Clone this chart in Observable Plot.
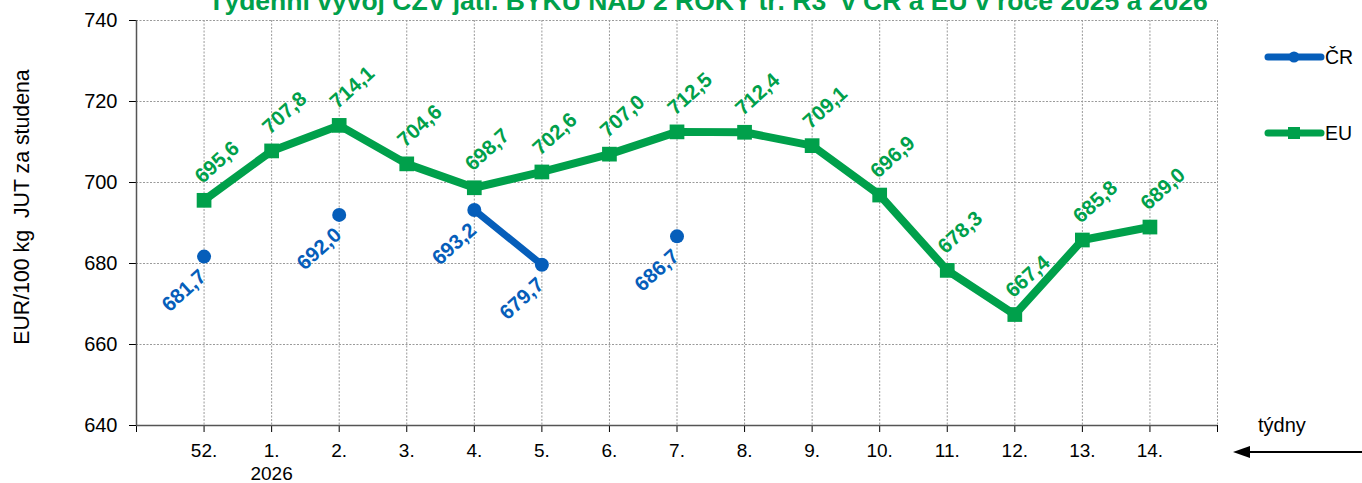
<!DOCTYPE html>
<html>
<head>
<meta charset="utf-8">
<script src="https://cdn.jsdelivr.net/npm/d3@7"></script>
<script src="https://cdn.jsdelivr.net/npm/@observablehq/plot@0.6"></script>
<style>
  html, body { margin: 0; padding: 0; background: #fff; overflow: hidden; }
  #chart { position: relative; width: 1362px; height: 483px; }
  #chart svg { display: block; overflow: hidden; }
</style>
</head>
<body>
<div id="chart"></div>
<script>
// ---- data ----
const weeks = ["52.", "1.", "2.", "3.", "4.", "5.", "6.", "7.", "8.", "9.", "10.", "11.", "12.", "13.", "14."];
const crValues = [681.7, null, 692.0, null, 693.2, 679.7, null, 686.7, null, null, null, null, null, null, null];
const euValues = [695.6, 707.8, 714.1, 704.6, 698.7, 702.6, 707.0, 712.5, 712.4, 709.1, 696.9, 678.3, 667.4, 685.8, 689.0];
const yTicks = [640, 660, 680, 700, 720, 740];
const yearLabel = "2026";
const yearWeek = "1.";
const seriesNames = ["ČR", "EU"];
const titleText = "Týdenní vývoj CZV jatl. BÝKŮ NAD 2 ROKY tř. R3  v ČR a EU v roce 2025 a 2026";
const yTitle = "EUR/100 kg  JUT za studena";
const xTitle = "týdny";

// ---- styles ----
const GREEN = "#00A04B";
const BLUE = "#065EBA";
const GRID = "#9a9a9a";
const FONT = "'Liberation Sans', Arial, sans-serif";

const rows = weeks.map((w, i) => ({ i: i + 1, week: w, cr: crValues[i], eu: euValues[i] }));
const fmt = v => v.toFixed(1).replace(".", ",");
const crRows = rows.filter(d => d.cr != null);

const chart = Plot.plot({
  width: 1362,
  height: 483,
  marginLeft: 136,
  marginRight: 145,
  marginTop: 20,
  marginBottom: 58,
  style: { fontFamily: FONT, background: "#fff", color: "#000", overflow: "hidden" },
  x: { type: "linear", domain: [0, weeks.length + 1] },
  y: { domain: [yTicks[0], yTicks[yTicks.length - 1]] },
  marks: [
    Plot.gridY(yTicks.slice(1), { stroke: GRID, strokeOpacity: 1, strokeWidth: 1, strokeDasharray: "2,1.5" }),
    Plot.gridX(d3.range(1, weeks.length + 2), { stroke: GRID, strokeOpacity: 1, strokeWidth: 1, strokeDasharray: "2,1.5" }),
    Plot.axisY({ ticks: yTicks, tickSize: 7, tickPadding: 12, fontSize: 20, label: null, tickFormat: d => String(d) }),
    Plot.axisX({ ticks: d3.range(0, weeks.length + 2), tickSize: 7, tickPadding: 11, fontSize: 19, label: null,
      tickFormat: i => weeks[i - 1] ?? "" }),
    Plot.ruleX([0], { stroke: "#555", strokeWidth: 1.5 }),
    Plot.ruleY([yTicks[0]], { stroke: "#555", strokeWidth: 1.5 }),
    Plot.text([yearLabel], { x: weeks.indexOf(yearWeek) + 1, y: yTicks[0], dy: 48, fontSize: 19, fill: "#000" }),
    // EU
    Plot.line(rows, { x: "i", y: "eu", stroke: GREEN, strokeWidth: 8, strokeLinejoin: "miter", strokeLinecap: "round" }),
    Plot.dot(rows, { x: "i", y: "eu", symbol: "square", r: 8.3, fill: GREEN, stroke: "none" }),
    // CR
    Plot.line(rows, { x: "i", y: "cr", stroke: BLUE, strokeWidth: 7, strokeLinecap: "round" }),
    Plot.dot(crRows, { x: "i", y: "cr", r: 7, fill: BLUE, stroke: "none" }),
    // labels
    Plot.text(rows, { x: "i", y: "eu", text: d => fmt(d.eu), rotate: -42, dx: 13, dy: -38,
      fill: GREEN, fontSize: 20.5, fontWeight: "bold" }),
    Plot.text(crRows, { x: "i", y: "cr", text: d => fmt(d.cr), rotate: -42, dx: -20, dy: 34,
      fill: BLUE, fontSize: 20.5, fontWeight: "bold" })
  ]
});

document.getElementById("chart").appendChild(chart);

// ---- extra decorations: title, y title, legend, "týdny" arrow ----
const svg = d3.select(chart);

svg.append("text")
  .attr("x", 708).attr("y", 10)
  .attr("text-anchor", "middle")
  .attr("font-family", FONT).attr("font-size", 26.5).attr("font-weight", "bold")
  .attr("fill", GREEN)
  .style("white-space", "pre")
  .text(titleText);

svg.append("text")
  .attr("transform", "translate(29,207) rotate(-90)")
  .attr("text-anchor", "middle")
  .attr("font-family", FONT).attr("font-size", 21.3)
  .attr("fill", "#000")
  .style("white-space", "pre")
  .text(yTitle);

const legendY = [57, 133];
const legendColors = [BLUE, GREEN];
seriesNames.forEach((name, k) => {
  const g = svg.append("g");
  g.append("line")
    .attr("x1", 1268).attr("x2", 1321).attr("y1", legendY[k]).attr("y2", legendY[k])
    .attr("stroke", legendColors[k]).attr("stroke-width", 7).attr("stroke-linecap", "round");
  if (k === 0) {
    g.append("circle").attr("cx", 1294).attr("cy", legendY[k]).attr("r", 5.5).attr("fill", BLUE);
  } else {
    g.append("rect").attr("x", 1288).attr("y", legendY[k] - 6).attr("width", 12).attr("height", 12).attr("fill", GREEN);
  }
  g.append("text")
    .attr("x", 1325).attr("y", legendY[k] + 7)
    .attr("text-anchor", "start")
    .attr("font-family", FONT).attr("font-size", 19.5).attr("fill", "#000")
    .text(name);
});

svg.append("text")
  .attr("x", 1258).attr("y", 432)
  .attr("text-anchor", "start")
  .attr("font-family", FONT).attr("font-size", 20).attr("fill", "#000")
  .text(xTitle);

svg.append("line")
  .attr("x1", 1362).attr("x2", 1246).attr("y1", 452).attr("y2", 452)
  .attr("stroke", "#000").attr("stroke-width", 2);
svg.append("path")
  .attr("d", "M1233,452 L1250,446 L1250,458 Z")
  .attr("fill", "#000");
</script>
</body>
</html>
